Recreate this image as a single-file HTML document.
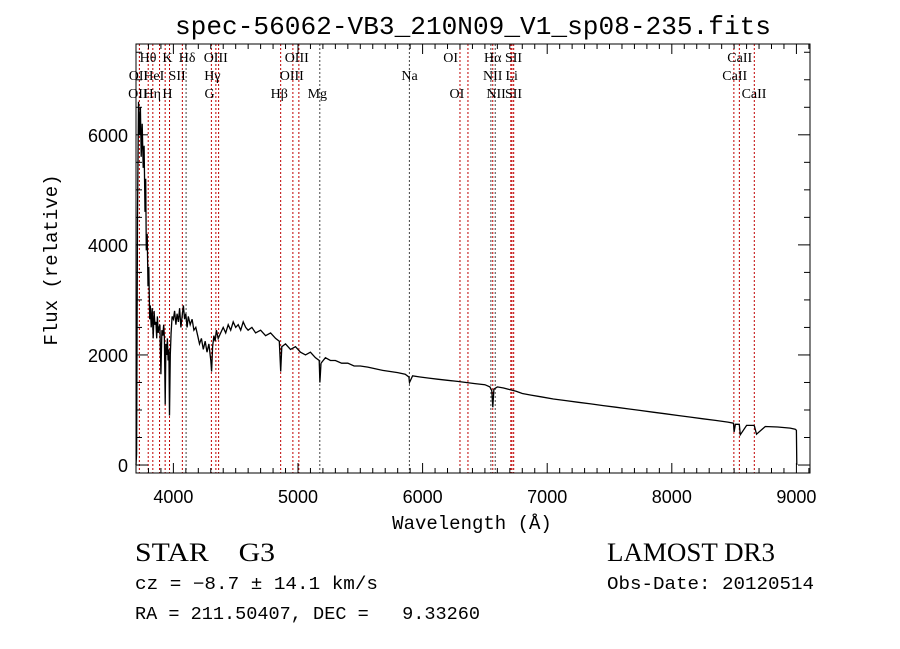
<!DOCTYPE html>
<html><head><meta charset="utf-8"><style>
html,body{margin:0;padding:0;background:#fff;}
svg{display:block;}
text{fill:#000;}
</style></head><body>
<svg id="chart" width="900" height="649" viewBox="0 0 900 649" xmlns="http://www.w3.org/2000/svg">
<rect x="0" y="0" width="900" height="649" fill="#fff"/>
<text x="473" y="34" text-anchor="middle" font-family="Liberation Mono, monospace" font-size="26" textLength="596" lengthAdjust="spacingAndGlyphs">spec-56062-VB3_210N09_V1_sp08-235.fits</text>
<g id="plot"></g>
<text x="472" y="529" text-anchor="middle" font-family="Liberation Mono, monospace" font-size="19">Wavelength (Å)</text>
<text transform="translate(57,260) rotate(-90)" text-anchor="middle" font-family="Liberation Mono, monospace" font-size="19">Flux (relative)</text>
<text x="135" y="561" font-family="Liberation Serif, serif" font-size="26" textLength="140" lengthAdjust="spacingAndGlyphs" xml:space="preserve">STAR    G3</text>
<text x="607" y="561" font-family="Liberation Serif, serif" font-size="26" textLength="168" lengthAdjust="spacingAndGlyphs">LAMOST DR3</text>
<text x="135" y="589" font-family="Liberation Mono, monospace" font-size="18" textLength="243" lengthAdjust="spacingAndGlyphs">cz = −8.7 ± 14.1 km/s</text>
<text x="607" y="589" font-family="Liberation Mono, monospace" font-size="18" textLength="207" lengthAdjust="spacingAndGlyphs">Obs-Date: 20120514</text>
<text x="135" y="619" font-family="Liberation Mono, monospace" font-size="18" textLength="345" lengthAdjust="spacingAndGlyphs" xml:space="preserve">RA = 211.50407, DEC =   9.33260</text>
</svg>
<script>
const waves = [
3700,3705,3712,3720,3728,3735,3742,3750,3758,3765,
3772,3778,3783,3790,3796,3803,3810,3815,3822,3830,
3838,3845,3852,3860,3866,3872,3878,3885,3892,3900,
3908,3915,3922,3928,3934,3940,3946,3952,3958,3964,
3969,3975,3982,3990,4000,4010,4020,4030,4040,4050,
4060,4070,4080,4090,4100,4110,4120,4135,4150,4165,
4180,4195,4210,4225,4240,4255,4270,4285,4300,4307,
4315,4325,4335,4345,4360,4380,4400,4420,4440,4460,
4480,4500,4520,4540,4560,4580,4600,4630,4660,4700,
4740,4780,4820,4850,4861,4870,4900,4940,4980,5020,
5060,5100,5140,5170,5176,5185,5220,5260,5300,5350,
5400,5450,5500,5560,5620,5680,5740,5800,5860,5890,
5895,5920,5980,6050,6120,6200,6280,6350,6420,6500,
6540,6555,6563,6572,6600,6650,6700,6750,6800,6870,
6950,7050,7150,7250,7350,7450,7550,7650,7750,7850,
7950,8050,8150,8250,8350,8450,8495,8500,8510,8542,
8550,8600,8660,8664,8680,8750,8850,8950,8990,9000,
9003];
const flux = [
0,200,4500,6600,6000,6500,5600,6200,5400,5800,
4600,5200,3900,4200,3250,3600,2650,2900,2500,2850,
2300,2800,2550,2600,2300,2700,2400,2500,2550,1650,
2450,2350,2550,2300,1100,2200,2000,2300,1900,2100,
900,2000,2400,2700,2650,2800,2550,2750,2600,2850,
2500,2700,2900,2650,2750,2500,2700,2550,2650,2450,
2500,2350,2200,2300,2100,2250,2050,2200,1900,1700,
2150,2350,2250,2450,2300,2400,2500,2400,2550,2450,
2600,2500,2550,2450,2600,2500,2450,2500,2400,2450,
2350,2400,2300,2250,1700,2150,2200,2100,2150,2050,
2000,2050,1950,1900,1500,1850,1950,1900,1900,1850,
1850,1800,1800,1780,1750,1720,1700,1680,1650,1600,
1500,1620,1600,1580,1560,1540,1520,1500,1480,1460,
1420,1350,1050,1380,1420,1400,1370,1340,1300,1270,
1240,1200,1170,1140,1110,1080,1050,1020,990,960,
930,900,870,840,810,780,760,600,740,740,
550,720,720,700,560,700,690,670,650,630,
0];
const lineWaves = [3727,3798,3835,3889,3934,3969,4072,4102,4305,4341,4363,4861,4959,5007,5175,5894,6300,6364,6548,6563,6583,6708,6717,6731,8498,8542,8662];
const lineLabels = ["Hθ","K","Hδ","OIII","OIII","OI","Hα","SII","CaII","OII","HeI","SII","Hγ","OIII","Na","NII","Li","CaII","OII","Hη","H","G","Hβ","Mg","OI","NII","SII","CaII"];
const labelWaves = [3797,3952,4110,4340,4990,6225,6563,6730,8545,3720,3843,4030,4313,4950,5895,6563,6715,8505,3715,3830,3952,4290,4850,5155,6275,6590,6730,8660];
const labelRows = [0,0,0,0,0,0,0,0,0,1,1,1,1,1,1,1,1,1,2,2,2,2,2,2,2,2,2,2];
const xTicks = [4000,5000,6000,7000,8000,9000];
const yTicks = [0,2000,4000,6000];

const L=136,R=810,T=44,B=473;
const xMin=3700,xMax=9109,yMin=-145,yMax=7650;
const xs=w=>L+(w-xMin)/(xMax-xMin)*(R-L);
const ys=v=>B-(v-yMin)/(yMax-yMin)*(B-T);
const NS='http://www.w3.org/2000/svg';
const g=document.getElementById('plot');
function mk(tag,attrs,parent){const e=document.createElementNS(NS,tag);for(const k in attrs)e.setAttribute(k,attrs[k]);(parent||g).appendChild(e);return e;}

lineWaves.forEach(w=>{
  const dark = (w===4102||w===5894||w===5175||w===6548||w===6583);
  const l=mk('line',{x1:xs(w),x2:xs(w),y1:T,y2:B,stroke:dark?'#444':'#c00000','stroke-width':1,'stroke-dasharray':'2,2'});
  
  
});
lineLabels.forEach((s,i)=>{
  const t=mk('text',{x:xs(labelWaves[i]),y:62+labelRows[i]*18,'text-anchor':'middle','font-family':'Liberation Serif, serif','font-size':14});
  t.textContent=s;
  
  
});

let d='';
const n=Math.min(waves.length,flux.length);
for(let i=0;i<n;i++){d+=(i?'L':'M')+xs(waves[i]).toFixed(1)+','+ys(flux[i]).toFixed(1);}
const sp=mk('path',{d:d,fill:'none',stroke:'#000','stroke-width':1.3});



const fr=mk('rect',{x:L,y:T,width:R-L,height:B-T,fill:'none',stroke:'#000','stroke-width':1});



for(let w=3700;w<=9100;w+=100){
  const major=w%1000===0;const len=major?10:5;
  mk('line',{x1:xs(w),x2:xs(w),y1:B,y2:B-len,stroke:'#000'});
  mk('line',{x1:xs(w),x2:xs(w),y1:T,y2:T+len,stroke:'#000'});
}
xTicks.forEach(v=>{
  const t=mk('text',{x:xs(v),y:B+30,'text-anchor':'middle','font-family':'Liberation Sans, sans-serif','font-size':18});
  t.textContent=v;
  
  
});
for(let v=0;v<=7500;v+=500){
  const major=v%2000===0;const len=major?12:6;
  mk('line',{x1:L,x2:L+len,y1:ys(v),y2:ys(v),stroke:'#000'});
  mk('line',{x1:R,x2:R-len,y1:ys(v),y2:ys(v),stroke:'#000'});
}
yTicks.forEach(v=>{
  const t=mk('text',{x:L-8,y:ys(v)+7,'text-anchor':'end','font-family':'Liberation Sans, sans-serif','font-size':18});
  t.textContent=v;
  
  
});
</script>
</body></html>
